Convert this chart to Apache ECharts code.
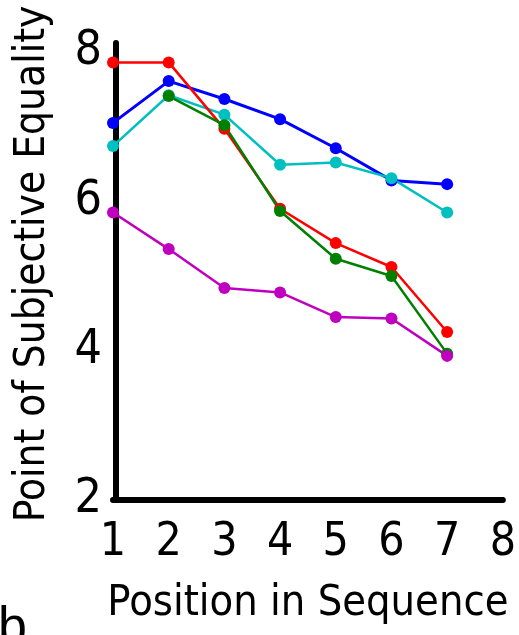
<!DOCTYPE html>
<html><head><meta charset="utf-8">
<script src="https://cdn.jsdelivr.net/npm/echarts@6/dist/echarts.min.js"></script>
<style>html,body{margin:0;padding:0;background:#fff}#c{width:519px;height:635px}</style>
</head><body><div id="c"></div>
<script>
const positions = [1, 2, 3, 4, 5, 6, 7];
const blueValues    = [7.05, 7.61, 7.37, 7.10, 6.71, 6.28, 6.23];
const cyanValues    = [6.74, 7.42, 7.16, 6.49, 6.52, 6.31, 5.85];
const greenValues   = [null, 7.41, 7.02, 5.87, 5.23, 5.00, 3.96];
const redValues     = [7.86, 7.86, 6.97, 5.90, 5.44, 5.12, 4.25];
const magentaValues = [5.85, 5.36, 4.84, 4.78, 4.45, 4.43, 3.93];
const yTickLabels = [2, 4, 6, 8];
const xTickLabels = [1, 2, 3, 4, 5, 6, 7, 8];

const FONT = '"Liberation Sans Narrow", "DejaVu Sans Condensed", "Roboto Condensed", "Liberation Sans", sans-serif';

function pairs(vals) {
  return positions.map((p, i) => [p, vals[i]]).filter(d => d[1] !== null);
}
function mk(name, color, vals, w) {
  return {
    name, type: 'line', data: pairs(vals),
    symbol: 'circle', symbolSize: 12,
    lineStyle: { color, width: w },
    itemStyle: { color },
    z: 3
  };
}

const chart = echarts.init(document.getElementById('c'), null, { renderer: 'canvas' });
chart.setOption({
  animation: false,
  backgroundColor: '#fff',
  grid: { left: 113, right: 16, top: 43, bottom: 135 },
  xAxis: {
    type: 'value', min: 1, max: 8, interval: 1,
    name: 'Position in Sequence', nameLocation: 'middle', nameGap: 82,
    nameTextStyle: { fontFamily: FONT, fontSize: 43, color: '#000' },
    axisLine: { show: true, onZero: false, lineStyle: { color: '#000', width: 6 } },
    axisTick: { show: true, inside: true, length: 3, lineStyle: { color: '#000', width: 2 } },
    splitLine: { show: false },
    axisLabel: {
      fontFamily: FONT, fontSize: 46, color: '#000', margin: 20,
      formatter: v => xTickLabels.includes(v) ? String(v) : ''
    }
  },
  yAxis: {
    type: 'value', min: 2, max: 8.12, interval: 2,
    offset: -3,
    axisLine: { show: true, onZero: false, lineStyle: { color: '#000', width: 6 } },
    axisTick: { show: false },
    splitLine: { show: false },
    axisLabel: {
      fontFamily: FONT, fontSize: 48, color: '#000', margin: 14,
      formatter: v => yTickLabels.includes(v) ? String(v) : ''
    }
  },
  graphic: [{
    type: 'text', x: 33, y: 264, rotation: Math.PI / 2,
    style: { text: 'Point of Subjective Equality', fontFamily: FONT, fontSize: 42, fill: '#000', align: 'center', verticalAlign: 'middle' }
  }, {
    type: 'text', left: -2, top: 603,
    style: { text: 'b', fontFamily: '"Liberation Sans", Arial, sans-serif', fontSize: 52, fontWeight: 'normal', fill: '#000' }
  }],
  series: [
    mk('Blue', '#0000ff', blueValues, 3),
    mk('Cyan', '#00bfbf', cyanValues, 2.5),
    mk('Red', '#ff0000', redValues, 2.5),
    mk('Green', '#008000', greenValues, 2.5),
    mk('Magenta', '#bf00bf', magentaValues, 2.5)
  ]
});
</script></body></html>
